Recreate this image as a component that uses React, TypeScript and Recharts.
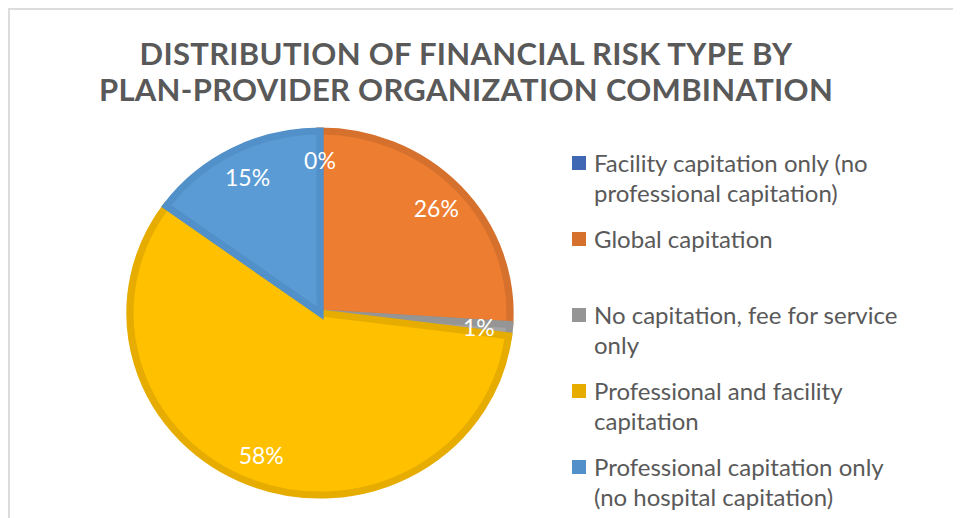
import { PieChart, Pie, Cell, Legend } from 'recharts';

const CATEGORIES = [
  'Facility capitation only (no\nprofessional capitation)',
  'Global capitation',
  'No capitation, fee for service\nonly',
  'Professional and facility\ncapitation',
  'Professional capitation only\n(no hospital capitation)',
];
const SHARES = [0, 26, 1, 58, 15];
const FILLS = ['#4472C4', '#ED7D31', '#A5A5A5', '#FFC000', '#5B9BD5'];
const BORDERS = ['#3F67B3', '#D5712D', '#959595', '#E6AD00', '#5290C9'];
const TITLE_LINES = ['DISTRIBUTION OF FINANCIAL RISK TYPE BY', 'PLAN-PROVIDER ORGANIZATION COMBINATION'];

const data = CATEGORIES.map((name, i) => ({ name, value: SHARES[i] }));

const RAD = Math.PI / 180;
// the source image is slightly stretched sideways, so the pie is an ellipse
const STRETCH = 1.044;

const renderLabel = (props: any) => {
  const { cx, cy, midAngle, outerRadius, percent } = props;
  const r = outerRadius * 0.84;
  const x = cx + STRETCH * r * Math.cos(-midAngle * RAD);
  const y = cy + r * Math.sin(-midAngle * RAD);
  return (
    <text x={x} y={y} fill="#ffffff" fontSize={23} fontFamily="Lato, sans-serif" textAnchor="middle" dominantBaseline="central">
      {`${Math.round(percent * 100)}%`}
    </text>
  );
};

function LegendBox() {
  return (
    <div style={{ fontFamily: 'Lato, sans-serif', fontSize: 24, color: '#595959' }}>
      {CATEGORIES.map((name, i) => (
        <div key={name} style={{ display: 'flex', height: 76, alignItems: 'flex-start' }}>
          <div style={{ width: 14, height: 14, background: BORDERS[i], marginTop: 8, marginRight: 8, flexShrink: 0 }} />
          <div style={{ whiteSpace: 'pre-line', lineHeight: '30px' }}>{name}</div>
        </div>
      ))}
    </div>
  );
}

export default function App() {
  return (
    <div
      style={{
        position: 'relative',
        width: 951,
        height: 508,
        borderTop: '2px solid #dcdcdc',
        borderLeft: '2px solid #dcdcdc',
        background: '#ffffff',
      }}
    >
      <style>{`path.stretched { transform-origin: 310px 303px; transform: scale(${STRETCH}, 1); }`}</style>
      <div
        style={{
          position: 'absolute',
          left: 0,
          top: 25,
          width: 912,
          textAlign: 'center',
          fontFamily: 'Lato, sans-serif',
          fontWeight: 700,
          fontSize: 31,
          letterSpacing: 0.3,
          lineHeight: '36px',
          color: '#595959',
          zIndex: 1,
        }}
      >
        {TITLE_LINES.map((t) => (
          <div key={t}>{t}</div>
        ))}
      </div>
      <PieChart width={951} height={508}>
        <Pie
          data={data}
          dataKey="value"
          nameKey="name"
          cx={305}
          cy={298}
          outerRadius={182}
          startAngle={90}
          endAngle={-270}
          labelLine={false}
          label={renderLabel}
          isAnimationActive={false}
        >
          {data.map((d, i) => (
            <Cell key={d.name} className="stretched" fill={FILLS[i]} stroke={BORDERS[i]} strokeWidth={7} />
          ))}
        </Pie>
        <Legend
          layout="vertical"
          align="right"
          verticalAlign="top"
          content={() => <LegendBox />}
          wrapperStyle={{ left: 562, top: 138, width: 390 }}
        />
      </PieChart>
    </div>
  );
}
